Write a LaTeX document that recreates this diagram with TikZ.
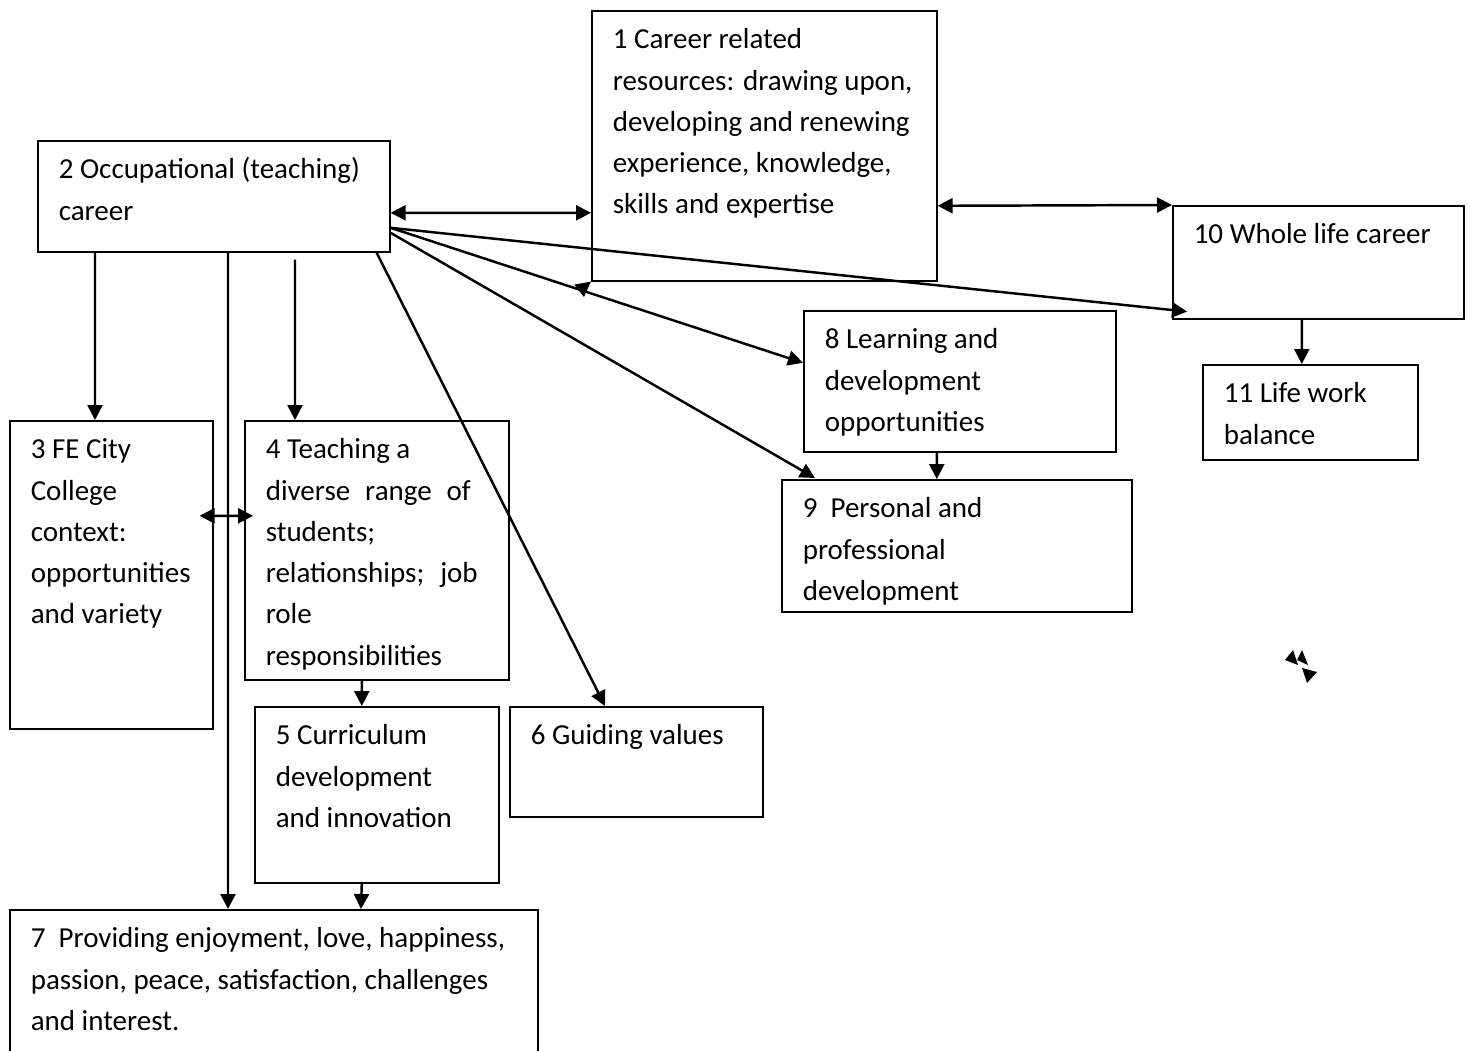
\documentclass[tikz,border=0pt]{standalone}
\usepackage{fontspec}
\setmainfont{Carlito}
\usetikzlibrary{arrows.meta, calc}

\begin{document}
\begin{tikzpicture}[
    box/.style 2 args={draw, line width=0.9pt, anchor=north west, align=left,
        inner xsep=0.42cm, inner ysep=0pt, text height=0.76cm,
        text width=#1, text depth=#2, font=\fontsize{16.5}{23.5}\selectfont,
        execute at begin node={\spaceskip=0pt\xspaceskip=0pt\rightskip=0pt plus 1fil minus 1cm\hyphenpenalty=10000}},
    arr/.style={line width=1.4pt, -{Triangle[length=0.3cm, width=0.3cm]}},
    dbl/.style={line width=1.4pt, {Triangle[length=0.3cm, width=0.3cm]}-{Triangle[length=0.3cm, width=0.3cm]}}
]
    \useasboundingbox (0,0) rectangle (29.4,-21);
    \clip (0,0) rectangle (29.4,-21);

    % boxes
    \node[box={6.06cm}{4.64cm}] (b1) at (11.82,-0.20) {1 Career related\\resources: drawing upon,\\developing and renewing\\experience, knowledge,\\skills and expertise};
    \node[box={6.20cm}{1.46cm}] (b2) at (0.74,-2.80) {2 Occupational (teaching)\\career};
    \node[box={3.22cm}{5.40cm}] (b3) at (0.18,-8.40) {3 FE City\\College\\context:\\opportunities\\and variety};
    \node[box={4.44cm}{4.42cm}] (b4) at (4.88,-8.40) {4 Teaching a\\\makebox[4.10cm][s]{diverse range of}\\students;\\\makebox[4.24cm][s]{relationships; job}\\role\\responsibilities};
    \node[box={4.04cm}{2.76cm}] (b5) at (5.08,-14.12) {5 Curriculum\\development\\and innovation};
    \node[box={4.22cm}{1.44cm}] (b6) at (10.18,-14.12) {6 Guiding values};
    \node[box={9.72cm}{2.16cm}] (b7) at (0.18,-18.18) {7\ \ Providing enjoyment, love, happiness,\\passion, peace, satisfaction, challenges\\and interest.};
    \node[box={5.40cm}{2.06cm}] (b8) at (16.06,-6.20) {8 Learning and\\development\\opportunities};
    \node[box={6.16cm}{1.88cm}] (b9) at (15.62,-9.58) {9\ \ Personal and\\professional\\development};
    \node[box={4.98cm}{1.50cm}] (b10) at (23.44,-4.10) {10 Whole life career};
    \node[box={3.46cm}{1.14cm}] (b11) at (24.04,-7.28) {11 Life work\\balance};

    % links
    \draw[dbl] ([yshift=-0.33cm]b2.east) -- ([yshift=-1.34cm]b1.west);
    \draw[dbl] ([yshift=-1.20cm]b1.east) -- (b10.north west);
    \draw[arr] ([yshift=-0.63cm]b2.east) -- ([xshift=0.30cm,yshift=0.16cm]b10.south west);
    \draw[arr] ([yshift=-0.63cm]b2.east) -- ([yshift=0.37cm]b8.west);
    \coordinate (m28) at ($([yshift=-0.63cm]b2.east)!0.46!([yshift=0.37cm]b8.west)$);
    \draw[arr] (m28) -- (b1.south west);
    \draw[arr] ([yshift=-0.73cm]b2.east) -- ([xshift=0.68cm,yshift=0.02cm]b9.north west);
    \draw[arr] ([xshift=-0.28cm]b2.south east) -- ([xshift=1.92cm]b6.north west);
    \draw[arr] ([xshift=1.16cm]b2.south west) -- ([xshift=1.72cm]b3.north west);
    \draw[arr] ([xshift=5.16cm,yshift=-0.14cm]b2.south west) -- ([xshift=1.02cm]b4.north west);
    \draw[arr] ([xshift=3.82cm]b2.south west) -- ([xshift=4.38cm]b7.north west);
    \draw[dbl] ([xshift=-0.28cm,yshift=1.18cm]b3.east) -- ([xshift=0.18cm,yshift=0.69cm]b4.west);
    \draw[arr] ([xshift=-0.30cm]b4.south) -- ([xshift=-0.30cm]b5.north);
    \draw[arr] ([xshift=-0.30cm]b5.south) -- ([xshift=7.04cm]b7.north west);
    \draw[arr] ([xshift=-0.46cm]b8.south) -- ([xshift=-0.40cm]b9.north);
    \draw[arr] ([xshift=-0.33cm]b10.south) -- ([xshift=-0.17cm]b11.north);

    % loose tips
    \fill (25.70,-13.20) -- (25.86,-13.00) -- (25.96,-13.30) -- cycle;
    \fill (25.94,-13.20) -- (26.04,-13.00) -- (26.16,-13.30) -- cycle;
    \fill (26.04,-13.36) -- (26.34,-13.44) -- (26.14,-13.66) -- cycle;
\end{tikzpicture}
\end{document}
